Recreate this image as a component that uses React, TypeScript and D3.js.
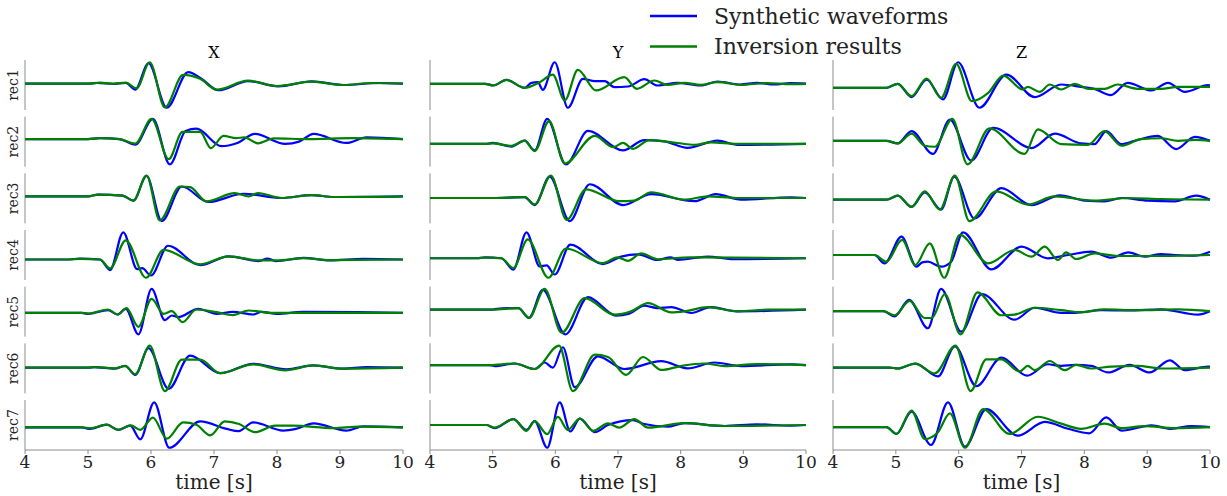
import React from "react";
import * as d3 from "d3";

type Pt = [number, number];

const components = ["X", "Y", "Z"];
const receivers = ["rec1", "rec2", "rec3", "rec4", "rec5", "rec6", "rec7"];
const timeTicks = [4, 5, 6, 7, 8, 9, 10];
const legendLabels = ["Synthetic waveforms", "Inversion results"];
const seriesColors = ["#0000ff", "#008000"];

// keypoints [time, amplitude] (amplitude in arbitrary units)
const synthX: Pt[][] = [
  [[4,0],[5.0,0],[5.14,2],[5.4,-1],[5.6,2],[5.75,-18],[5.96,62],[6.25,-73],[6.59,35],[6.8,15],[7.07,-20],[7.54,8],[8.02,-8],[8.55,7],[9.05,-4],[9.63,2],[10,0]],
  [[4,0],[5.0,0],[5.19,3],[5.5,0],[5.75,-17],[6.03,62],[6.3,-78],[6.55,25],[6.72,32],[7.12,-22],[7.36,-13],[7.65,16],[8.13,-15],[8.35,-8],[8.58,16],[9.1,-12],[9.42,5],[10,0]],
  [[4,0],[5.0,0],[5.16,5],[5.55,2],[5.72,-13],[5.93,62],[6.17,-75],[6.49,30],[6.91,-17],[7.47,8],[8.07,-5],[8.55,4],[8.9,-2],[10,0]],
  [[4,0],[4.7,0],[4.87,3],[5.19,0],[5.35,-33],[5.56,85],[5.78,-30],[5.86,-27],[6.0,-50],[6.27,43],[6.78,-18],[7.23,10],[7.71,-5],[7.85,3],[7.98,-5],[8.42,5],[8.84,-3],[9.37,2],[10,0]],
  [[4,0],[4.9,0],[5.0,-3],[5.32,8],[5.47,-5],[5.6,12],[5.8,-65],[6.01,72],[6.22,-22],[6.33,-8],[6.43,-13],[6.75,12],[7.04,-3],[7.3,3],[7.62,-5],[7.75,3],[8.0,-3],[8.42,3],[9.27,2],[10,0]],
  [[4,0],[5.0,0],[5.1,2],[5.42,-3],[5.59,6],[5.75,-22],[5.96,60],[6.28,-65],[6.62,37],[7.1,-17],[7.62,12],[8.15,-5],[8.58,7],[9.05,-3],[9.42,2],[10,0]],
  [[4,0],[4.9,0],[5.03,-5],[5.3,8],[5.48,-8],[5.67,5],[5.83,-37],[6.05,77],[6.29,-63],[6.78,18],[7.2,-5],[7.39,-12],[7.62,15],[8.1,-10],[8.3,-5],[8.58,12],[9.1,-10],[9.37,3],[10,0]],
];

const invX: Pt[][] = [
  [[4,0],[5.0,0],[5.19,3],[5.4,0],[5.6,3],[5.77,-14],[5.98,65],[6.22,-72],[6.51,27],[6.78,15],[7.04,-18],[7.54,9],[8.0,-7],[8.55,6],[9.05,-4],[9.5,2],[10,0]],
  [[4,0],[5.0,0],[5.19,3],[5.5,0],[5.75,-14],[6.01,62],[6.28,-62],[6.5,22],[6.78,22],[6.95,-28],[7.15,10],[7.35,3],[7.48,5],[7.7,-13],[7.95,2],[8.5,0],[9.2,3],[10,0]],
  [[4,0],[5.0,0],[5.16,5],[5.55,2],[5.72,-13],[5.93,63],[6.14,-73],[6.46,30],[6.62,28],[6.88,-15],[7.33,10],[7.55,0],[7.7,10],[8.07,-5],[8.55,4],[8.9,-2],[10,0]],
  [[4,0],[4.7,0],[4.87,2],[5.19,0],[5.35,-28],[5.6,60],[5.92,-57],[6.2,30],[6.78,-15],[7.23,10],[7.73,-3],[8.0,-3],[8.42,4],[8.84,-2],[10,0]],
  [[4,0],[4.9,0],[5.0,-2],[5.32,10],[5.47,-5],[5.61,14],[5.8,-42],[6.01,42],[6.2,-3],[6.33,5],[6.5,-28],[6.72,10],[7.04,2],[7.3,-7],[7.55,7],[7.9,0],[10,0]],
  [[4,0],[5.0,0],[5.1,2],[5.42,-2],[5.59,5],[5.75,-20],[5.98,68],[6.22,-72],[6.49,25],[6.78,25],[7.1,-17],[7.62,10],[8.13,-8],[8.58,7],[9.05,-3],[10,0]],
  [[4,0],[4.9,0],[5.03,-3],[5.3,8],[5.48,-8],[5.68,6],[5.83,-8],[6.03,30],[6.25,-35],[6.51,15],[6.72,8],[6.94,-25],[7.17,18],[7.4,10],[7.65,-15],[7.97,5],[8.25,5],[8.9,-3],[9.3,2],[10,0]],
];

const synthY: Pt[][] = [
  [[4,0],[4.88,0],[5.01,-5],[5.22,12],[5.51,-12],[5.62,3],[5.72,5],[5.8,-18],[5.99,65],[6.2,-72],[6.44,15],[6.63,8],[6.79,8],[6.94,-10],[7.16,-8],[7.42,14],[7.63,-5],[7.95,3],[8.32,-5],[8.59,7],[8.95,-2],[9.22,3],[9.49,-2],[9.75,2],[10,1]],
  [[4,0],[4.88,0],[5.0,3],[5.3,-8],[5.51,10],[5.67,-20],[5.87,77],[6.17,-63],[6.52,40],[7.08,-20],[7.42,12],[7.74,8],[8.11,-12],[8.59,10],[8.91,-3],[10,0]],
  [[4,0],[5.0,0],[5.51,3],[5.67,-22],[5.91,67],[6.23,-72],[6.55,43],[7.08,-22],[7.53,12],[8.22,-10],[8.56,12],[8.96,-5],[9.76,2],[10,0]],
  [[4,0],[4.75,0],[4.88,3],[5.14,0],[5.33,-35],[5.54,80],[5.75,-25],[5.86,-22],[5.99,-50],[6.24,42],[6.76,-18],[7.05,5],[7.32,12],[7.63,-5],[7.84,3],[7.95,-5],[8.43,5],[8.85,-3],[10,0]],
  [[4,0],[5.0,0],[5.03,2],[5.41,5],[5.58,-25],[5.8,60],[6.16,-75],[6.52,38],[6.97,-18],[7.18,-12],[7.42,12],[7.63,5],[7.85,8],[8.17,-10],[8.48,8],[8.91,-5],[10,0]],
  [[4,0],[4.95,0],[5.06,-3],[5.35,5],[5.67,-12],[5.83,8],[5.96,-8],[6.12,55],[6.31,-68],[6.68,27],[7.1,-12],[7.69,12],[8.11,-10],[8.54,8],[8.96,-3],[9.76,2],[10,0]],
  [[4,0],[4.9,0],[5.03,-10],[5.33,18],[5.54,-15],[5.67,12],[5.87,-70],[6.07,70],[6.24,-20],[6.39,20],[6.63,-22],[6.84,0],[7.24,15],[7.42,3],[7.79,-5],[8.06,6],[8.7,-3],[9.22,2],[9.75,-2],[10,0]],
];

const invY: Pt[][] = [
  [[4,0],[4.88,0],[5.01,-5],[5.22,12],[5.51,-12],[5.75,5],[5.96,28],[6.15,-50],[6.36,42],[6.65,-20],[7.1,20],[7.3,-15],[7.58,10],[7.79,-3],[8.06,3],[8.32,-3],[8.59,5],[8.96,-3],[9.38,2],[9.75,-1],[10,0]],
  [[4,0],[4.88,0],[5.0,2],[5.3,-6],[5.51,10],[5.67,-22],[5.9,70],[6.15,-60],[6.63,25],[6.92,-10],[7.08,3],[7.24,-15],[7.5,12],[7.95,3],[8.22,-3],[8.48,5],[8.9,0],[10,0]],
  [[4,0],[5.0,0],[5.51,3],[5.67,-20],[5.93,70],[6.18,-68],[6.49,27],[7.02,-10],[7.26,-8],[7.53,18],[8.06,-5],[8.43,5],[8.9,0],[10,0]],
  [[4,0],[4.75,0],[4.88,2],[5.14,0],[5.33,-30],[5.56,58],[5.89,-60],[6.17,30],[6.76,-15],[6.99,3],[7.16,-8],[7.37,15],[7.63,-3],[8.16,3],[10,0]],
  [[4,0],[5.0,0],[5.41,5],[5.58,-25],[5.83,63],[6.1,-70],[6.47,35],[6.94,-15],[7.21,-5],[7.48,20],[7.85,-8],[8.06,-5],[8.43,8],[8.91,-5],[9.4,0],[10,0]],
  [[4,0],[4.95,0],[5.35,5],[5.67,-12],[6.06,60],[6.28,-80],[6.63,32],[6.84,25],[7.13,-30],[7.4,25],[7.69,-15],[8.0,-3],[8.38,5],[8.7,-3],[9.22,3],[10,0]],
  [[4,0],[4.9,0],[5.03,-8],[5.33,18],[5.54,-18],[5.67,12],[5.87,-28],[6.04,25],[6.2,-15],[6.39,20],[6.6,-18],[6.84,5],[7.02,-8],[7.26,18],[7.48,-8],[8.06,6],[8.7,-3],[10,0]],
];

const synthZ: Pt[][] = [
  [[4,0],[4.85,0],[5.03,12],[5.25,-28],[5.49,25],[5.75,-35],[5.99,77],[6.33,-60],[6.76,40],[7.21,-28],[7.63,10],[7.95,3],[8.16,-3],[8.42,-22],[8.69,15],[9.07,-8],[9.33,15],[9.6,-12],[9.97,8],[10,7]],
  [[4,0],[4.85,0],[5.03,-8],[5.25,30],[5.59,-40],[5.86,65],[6.2,-60],[6.55,40],[7.16,-22],[7.53,22],[7.95,-8],[8.16,-10],[8.35,30],[8.59,-10],[8.8,0],[9.17,15],[9.46,-25],[9.76,12],[10,0]],
  [[4,0],[4.85,0],[5.03,12],[5.25,-22],[5.46,22],[5.72,-30],[5.93,70],[6.25,-57],[6.68,35],[7.16,-17],[7.61,13],[8.01,-3],[8.32,-5],[8.59,5],[9.01,-3],[9.44,-5],[9.78,12],[10,0]],
  [[4,0],[4.66,0],[4.82,-25],[5.09,55],[5.33,-35],[5.42,-22],[5.51,-20],[5.72,-35],[5.88,-20],[6.07,68],[6.52,-43],[7.0,25],[7.42,-10],[7.74,0],[8.11,10],[8.43,-8],[8.7,8],[8.96,-5],[9.22,3],[9.44,0],[9.76,-2],[10,10]],
  [[4,0],[4.8,0],[4.98,-15],[5.21,33],[5.51,-50],[5.72,65],[6.04,-60],[6.37,50],[6.89,-25],[7.21,10],[7.63,-5],[7.85,-5],[8.27,3],[8.7,2],[9.22,5],[9.81,-10],[10,0]],
  [[4,0],[4.9,0],[5.03,-3],[5.31,12],[5.67,-27],[5.94,65],[6.28,-57],[6.68,30],[7.09,-25],[7.42,10],[7.63,5],[7.85,8],[8.11,5],[8.38,-15],[8.72,8],[9.04,-15],[9.36,22],[9.6,-8],[9.97,3],[10,3]],
  [[4,0],[4.85,0],[5.01,-20],[5.25,45],[5.56,-52],[5.83,72],[6.1,-57],[6.44,52],[6.94,-25],[7.37,15],[7.74,-5],[8.08,-18],[8.35,28],[8.59,-10],[9.07,5],[9.38,-5],[9.7,3],[10,0]],
];

const invZ: Pt[][] = [
  [[4,0],[4.85,0],[5.03,12],[5.25,-25],[5.49,28],[5.72,-30],[5.96,72],[6.21,-40],[6.47,-15],[6.71,37],[7.02,-5],[7.1,3],[7.29,-12],[7.45,10],[7.63,-5],[7.85,12],[8.06,-3],[8.32,-3],[8.53,10],[8.85,-3],[9.22,-3],[9.49,3],[10,3]],
  [[4,0],[4.85,0],[5.03,-8],[5.25,22],[5.46,-15],[5.62,-18],[5.9,67],[6.14,-72],[6.49,38],[7.05,-40],[7.26,35],[7.63,-10],[8.06,-12],[8.32,30],[8.59,-15],[8.9,5],[9.22,8],[9.49,0],[9.76,3],[10,0]],
  [[4,0],[4.85,0],[5.03,12],[5.25,-22],[5.46,25],[5.7,-30],[5.94,73],[6.17,-65],[6.6,25],[7.1,-15],[7.53,10],[8.16,-3],[8.7,5],[9.22,2],[10,0]],
  [[4,0],[4.66,0],[4.85,-20],[5.1,45],[5.31,-30],[5.54,35],[5.77,-68],[6.02,60],[6.47,-25],[6.89,15],[7.16,-5],[7.37,25],[7.58,-15],[7.71,8],[7.87,-12],[8.16,5],[8.54,-3],[9.22,-3],[10,0]],
  [[4,0],[4.8,0],[4.98,-12],[5.22,30],[5.46,-20],[5.57,-20],[5.78,50],[6.03,-68],[6.3,55],[6.68,-12],[6.89,-10],[7.21,10],[7.63,3],[7.95,-3],[8.32,5],[8.85,3],[9.49,5],[10,0]],
  [[4,0],[4.9,0],[5.03,-3],[5.31,12],[5.62,-18],[5.95,67],[6.19,-72],[6.44,25],[6.68,25],[6.97,-12],[7.1,5],[7.21,-8],[7.45,20],[7.69,-8],[7.87,8],[8.11,-3],[8.43,3],[8.85,5],[9.22,-3],[10,0]],
  [[4,0],[4.85,0],[5.01,-20],[5.25,48],[5.46,-35],[5.67,-15],[5.86,40],[6.1,-60],[6.39,52],[6.81,-20],[7.26,30],[7.63,10],[7.95,-5],[8.32,10],[8.59,-3],[8.96,3],[9.44,-3],[10,0]],
];

const synthetic = [synthX, synthY, synthZ];
const inversion = [invX, invY, invZ];

const W = 1227;
const H = 496;
const FONT = "DejaVu Serif";
const panelLeft = [25, 430, 833];
const panelRight = [403, 806, 1210];
const top = 60;
const rowH = 50;
const rowGap = 6.67;
const spineColor = "#8c8c8c";

function Panel({ ci }: { ci: number }) {
  const x = d3.scaleLinear().domain([4, 10]).range([panelLeft[ci], panelRight[ci]]);
  const bottom = top + receivers.length * rowH + (receivers.length - 1) * rowGap;
  return (
    <g>
      <text x={(panelLeft[ci] + panelRight[ci]) / 2} y={top - 2} textAnchor="middle"
        fontFamily={FONT} fontSize={16} fill="#000">{components[ci]}</text>
      {receivers.map((rec, ri) => {
        const y0 = top + ri * (rowH + rowGap);
        const all = synthetic[ci][ri].concat(inversion[ci][ri]);
        const [lo, hi] = d3.extent(all, (d) => d[1]) as [number, number];
        const pad = (hi - lo) * 0.05;
        const y = d3.scaleLinear().domain([lo - pad, hi + pad]).range([y0 + rowH, y0]);
        const line = d3.line<Pt>().x((d) => x(d[0])).y((d) => y(d[1])).curve(d3.curveMonotoneX);
        return (
          <g key={rec}>
            <line x1={panelLeft[ci]} x2={panelLeft[ci]} y1={y0} y2={y0 + rowH}
              stroke={spineColor} strokeWidth={1} />
            {ci === 0 && (
              <text transform={`translate(${panelLeft[ci] - 7},${y0 + rowH / 2}) rotate(-90)`}
                textAnchor="middle" fontFamily={FONT} fontSize={14} fill="#222">{rec}</text>
            )}
            <path d={line(synthetic[ci][ri]) || ""} fill="none" stroke={seriesColors[0]}
              strokeWidth={2.2} strokeLinejoin="round" />
            <path d={line(inversion[ci][ri]) || ""} fill="none" stroke={seriesColors[1]}
              strokeWidth={2.2} strokeLinejoin="round" />
          </g>
        );
      })}
      <line x1={panelLeft[ci]} x2={panelRight[ci]} y1={bottom} y2={bottom} stroke={spineColor} strokeWidth={1} />
      {timeTicks.map((t) => (
        <g key={t}>
          <line x1={x(t)} x2={x(t)} y1={bottom} y2={bottom + 4} stroke={spineColor} strokeWidth={1} />
          <text x={x(t)} y={bottom + 18} textAnchor="middle" fontFamily={FONT} fontSize={17} fill="#222">{t}</text>
        </g>
      ))}
      <text x={(panelLeft[ci] + panelRight[ci]) / 2} y={bottom + 39} textAnchor="middle"
        fontFamily={FONT} fontSize={20} fill="#222">time [s]</text>
    </g>
  );
}

export default function App() {
  return (
    <svg width={W} height={H} style={{ position: "absolute", left: 0, top: 0, background: "#fff" }}>
      {components.map((c, ci) => <Panel key={c} ci={ci} />)}
      {legendLabels.map((lab, i) => (
        <g key={lab}>
          <line x1={650} x2={697} y1={16 + i * 30.5} y2={16 + i * 30.5} stroke={seriesColors[i]} strokeWidth={2.5} />
          <text x={714} y={23.5 + i * 30.5} fontFamily={FONT} fontSize={22} fill="#222">{lab}</text>
        </g>
      ))}
    </svg>
  );
}
